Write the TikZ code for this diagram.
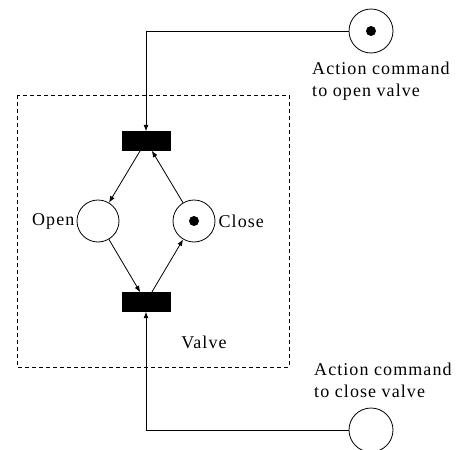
\documentclass[tikz,border=0pt]{standalone}
\usepackage{fontspec}
\setmainfont[LetterSpace=6]{Liberation Serif}
\usetikzlibrary{arrows.meta, positioning}

\begin{document}
\begin{tikzpicture}[
		x=1pt, y=-1pt,
		font=\fontsize{18}{22}\selectfont,
		arrow/.style={-{Latex[length=6.5pt, width=5pt]}, line width=0.8pt},
		place/.style={circle, draw=black, line width=0.8pt, minimum size=42pt, inner sep=0pt},
		trans/.style={rectangle, draw=black, fill=black, minimum width=48pt, minimum height=19pt, inner sep=0pt},
		token/.style={circle, fill=black, minimum size=10pt, inner sep=0pt},
		lbl/.style={inner sep=1pt},
		cmd/.style={align=left, anchor=base west, inner sep=0pt}
		]
		\useasboundingbox (0,0) rectangle (464,450);
		
		% 1. Valve subnet (dashed frame)
		\draw[line width=0.8pt, dash pattern=on 4pt off 3pt] (17,95) rectangle (289,367);
		\node[trans] (fireopen) at (146,141) {};
		\node[trans] (fireclose) at (146,302) {};
		\node[place] (open) at (98,221) {};
		\node[place] (close) at (194,221) {};
		\node[token] (tokclose) at (close) {};
		\node[lbl, left=1pt of open] (openlbl) {Open};
		\node[lbl, right=2pt of close] (closelbl) {Close};
		\node[lbl] (valvelbl) at (204,342) {Valve};
		
		% 2. Command places (base = last line)
		\node[place, minimum size=44pt] (cmdopen) at (371,31) {};
		\node[token] (tokcmdopen) at (cmdopen) {};
		\node[cmd] (cmdopenlbl) at (312,96) {Action command\\to open valve};
		
		\node[place, minimum size=44pt] (cmdclose) at (371,430) {};
		\node[cmd] (cmdcloselbl) at (314,397) {Action command\\to close valve};
		
		% Arrows
		\draw[arrow] (fireopen) -- (open);
		\draw[arrow] (close) -- (fireopen);
		\draw[arrow] (open) -- (fireclose);
		\draw[arrow] (fireclose) -- (close);
		\draw[arrow] (cmdopen.west) -| (fireopen.north);
		\draw[arrow] (cmdclose.west) -| (fireclose.south);
	\end{tikzpicture}
\end{document}
